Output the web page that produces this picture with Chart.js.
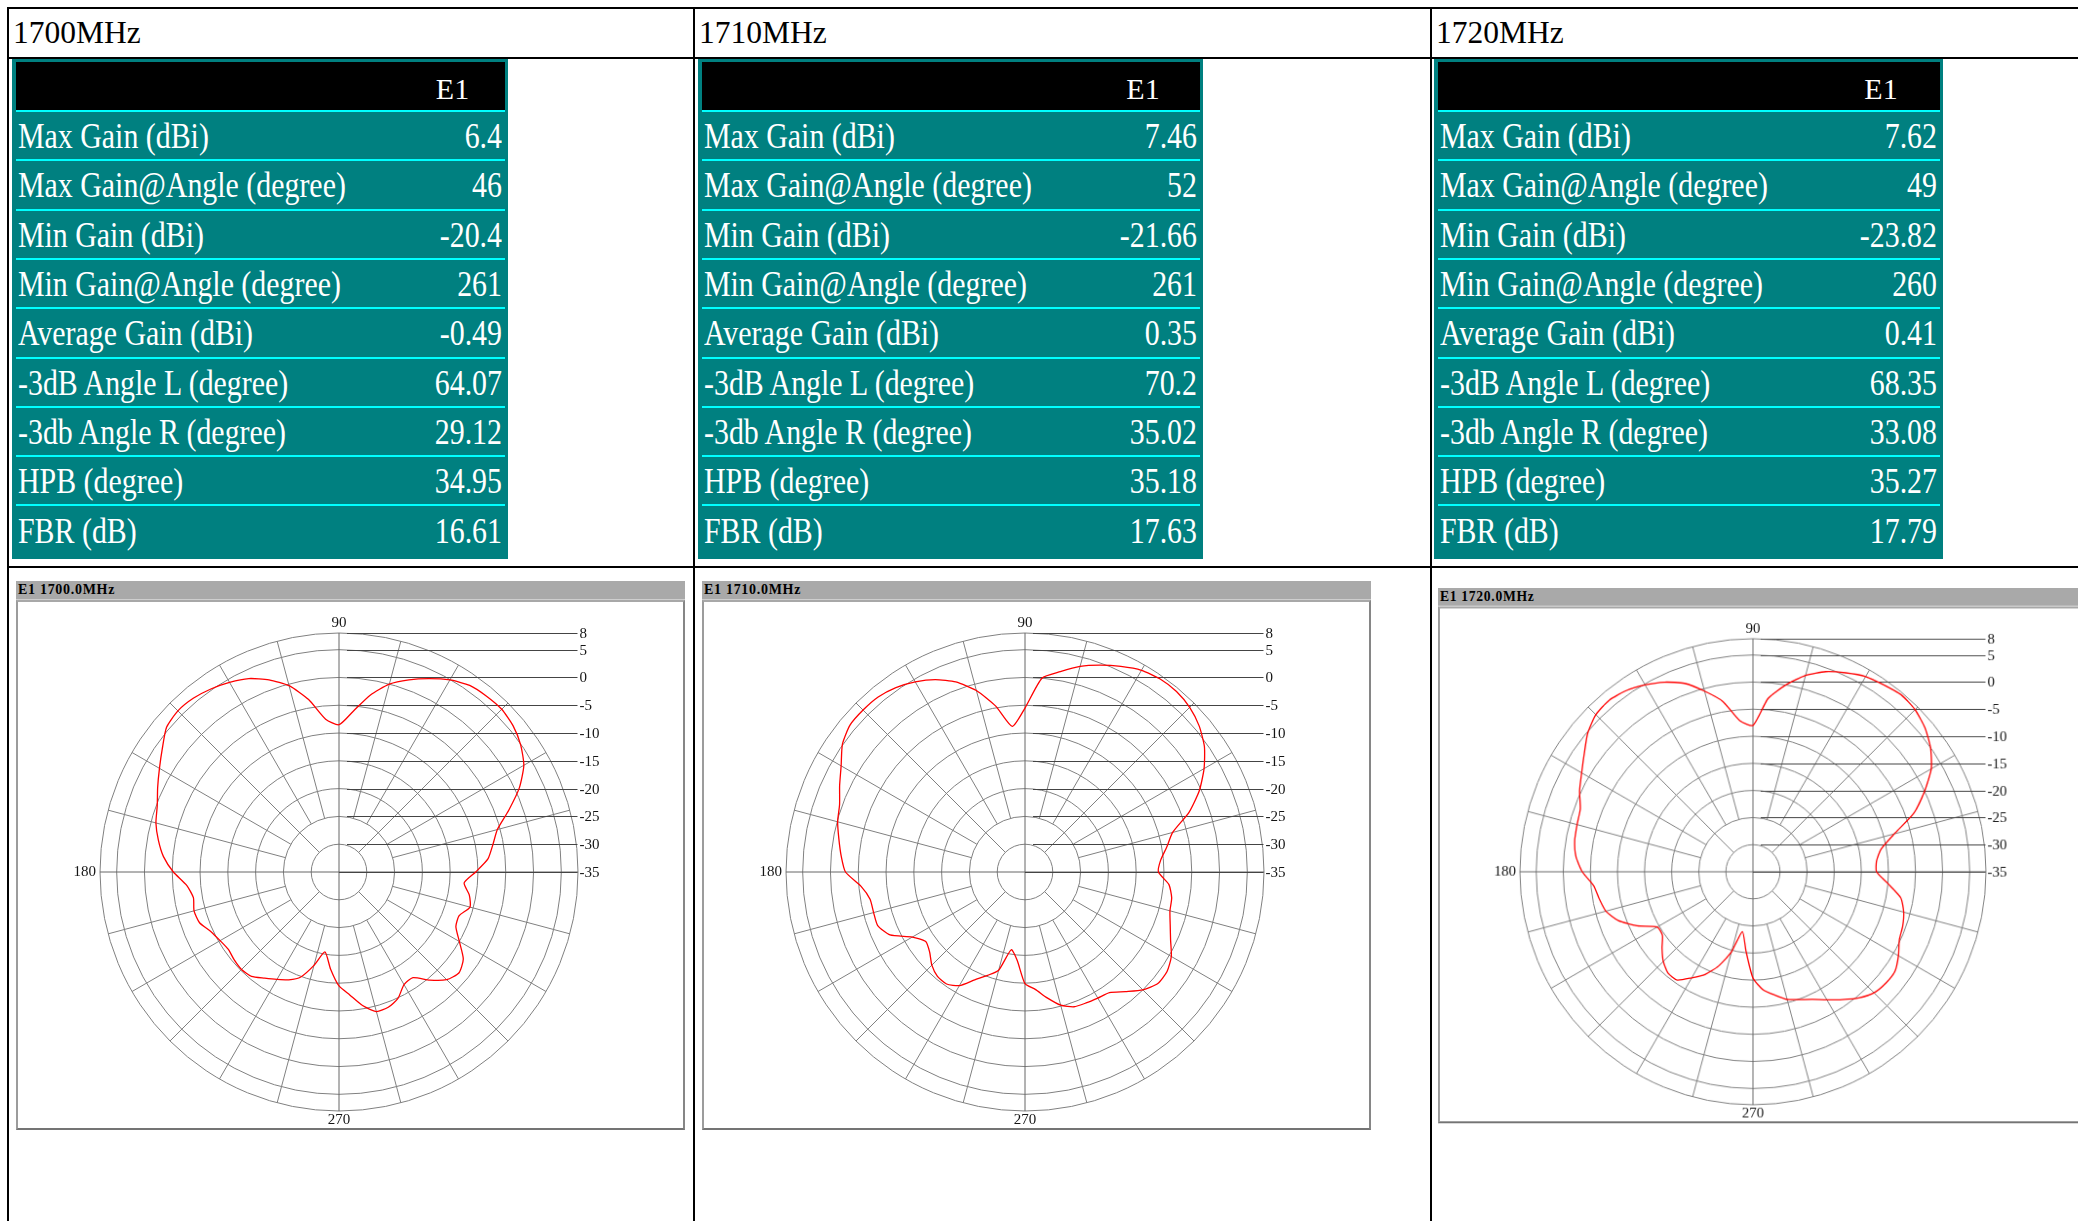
<!DOCTYPE html>
<html>
<head>
<meta charset="utf-8">
<title>E1 radiation patterns, 1700-1720 MHz</title>
<script src="https://cdn.jsdelivr.net/npm/chart.js@4.4.1/dist/chart.umd.min.js"></script>
<style>
  html, body { margin: 0; padding: 0; background: #fff; }
  #page { position: relative; width: 2078px; height: 1221px; overflow: hidden; background: #fff;
          font-family: "Liberation Serif", "Times New Roman", serif; }
  .rule { position: absolute; background: #000; }
  .freq { position: absolute; font-size: 31.5px; line-height: 31.5px; color: #000; white-space: nowrap; }
  .teal { position: absolute; background: #008080; }
  .blk  { position: absolute; background: #000; }
  .cyan { position: absolute; height: 2px; background: #00ffff; }
  .e1   { position: absolute; width: 100px; text-align: center; font-size: 30px; line-height: 30px; color: #fff; }
  .row  { position: absolute; font-size: 36px; line-height: 36px; color: #fff; white-space: nowrap; }
  .row span { display: inline-block; transform: scaleX(0.83); }
  .lab span { transform-origin: left center; }
  .val { text-align: right; }
  .val span { transform-origin: right center; }
  .panel { position: absolute; width: 669px; height: 550px; transform-origin: 0 0; }
  .bar { position: absolute; left: 0; top: 0; width: 669px; height: 18px; background: #a9a9a9;
         border-bottom: 1px solid #cfcfcf; }
  .bar span { position: absolute; left: 2px; top: 1px; font: bold 14px/16px "Liberation Serif", serif;
              letter-spacing: 0.7px; color: #000; white-space: nowrap; }
  .frame { position: absolute; left: 0; top: 19px; width: 665px; height: 526px; background: #fff;
           border: 2px solid; border-color: #a8a8a8 #868686 #747474 #9c9c9c; }
  canvas { position: absolute; }
</style>
</head>
<body>
<div id="page"></div>
<script>
// ---------------- data ----------------
const freqLabels = ["1700MHz", "1710MHz", "1720MHz"];
const plotTitles = ["E1 1700.0MHz", "E1 1710.0MHz", "E1 1720.0MHz"];
const portName = "E1";

const statNames = [
  "Max Gain (dBi)", "Max Gain@Angle (degree)", "Min Gain (dBi)", "Min Gain@Angle (degree)",
  "Average Gain (dBi)", "-3dB Angle L (degree)", "-3db Angle R (degree)", "HPB (degree)", "FBR (dB)"
];
const stats1700 = ["6.4", "46", "-20.4", "261", "-0.49", "64.07", "29.12", "34.95", "16.61"];
const stats1710 = ["7.46", "52", "-21.66", "261", "0.35", "70.2", "35.02", "35.18", "17.63"];
const stats1720 = ["7.62", "49", "-23.82", "260", "0.41", "68.35", "33.08", "35.27", "17.79"];

// pattern angles (degrees, counter-clockwise from 0 at the right)
const angles = [
    0,   5,  10,  15,  20,  25,  30,  35,  40,  45,  50,  55,
   60,  65,  70,  75,  80,  85,  90,  95, 100, 105, 110, 115,
  120, 125, 130, 135, 140, 145, 150, 155, 160, 165, 170, 175,
  180, 185, 190, 195, 200, 205, 210, 215, 220, 225, 230, 235,
  240, 245, 250, 255, 260, 265, 270, 275, 280, 285, 290, 295,
  300, 305, 310, 315, 320, 325, 330, 335, 340, 345, 350, 355
];

// gain in dBi at each angle above
const gain1700 = [
  -10.4,  -8.1,  -6.9,  -5.5,  -2.5,   0.8,   3.4,   4.9,   5.9,   6.4,   6.3,   6.0,
    4.9,   3.4,   1.8,   0.0,  -2.7,  -6.0,  -8.5,  -7.4,  -3.5,  -0.3,   1.8,   3.4,
    4.4,   5.2,   5.8,   6.0,   5.5,   3.8,   2.3,   1.0,  -0.2,  -0.9,  -2.0,  -3.3,
   -5.2,  -7.5,  -8.4,  -8.0,  -8.3,  -9.6, -10.3, -10.7, -10.4, -10.2, -10.5, -11.7,
  -12.7, -13.6, -14.9, -17.6, -20.4, -17.5, -14.5, -12.8, -10.6,  -9.0,  -9.1,  -9.9,
  -11.6, -11.8,  -9.6,  -7.6,  -6.8,  -7.7, -10.0, -11.8, -12.0, -10.6, -11.2, -12.4
];
const gain1710 = [
  -11.0, -10.5,  -9.1,  -7.5,  -3.6,  -0.4,   2.2,   4.4,   5.9,   6.9,   7.4,   7.4,
    6.9,   5.8,   4.6,   3.3,   1.6,   0.0,  -5.5,  -8.7,  -4.7,  -1.2,   1.4,   3.2,
    4.5,   5.5,   6.1,   6.2,   6.1,   5.1,   3.2,   1.8,   0.5,  -0.1,  -1.0,  -1.8,
   -2.7,  -5.4,  -6.7,  -6.8,  -6.8,  -8.2, -11.6, -13.2, -12.6, -11.3, -10.5, -10.4,
  -11.4, -13.6, -15.2, -16.7, -20.8, -19.0, -14.9, -13.8, -12.0, -10.2,  -9.2,  -9.0,
   -8.8,  -8.5,  -6.9,  -5.0,  -3.8,  -3.8,  -4.6,  -6.1,  -7.2,  -8.0,  -8.2,  -9.0
];
const gain1720 = [
  -12.2, -12.1, -11.0,  -8.0,  -3.4,  -0.1,   3.0,   5.0,   6.4,   7.3,   7.6,   7.1,
    6.6,   5.5,   4.3,   2.5,   0.0,  -2.9,  -8.0,  -7.0,  -3.1,  -0.5,   2.0,   3.6,
    4.8,   5.8,   6.3,   6.0,   4.8,   3.0,   1.5,   0.3,  -1.1,  -1.4,  -1.6,  -2.2,
   -3.5,  -5.5,  -6.2,  -6.9,  -8.6, -11.4, -14.6, -14.6, -13.1, -11.6, -10.6, -10.6,
  -12.4, -14.1, -16.5, -19.7, -23.8, -20.3, -15.4, -13.1, -11.9, -10.6,  -9.9,  -9.0,
   -7.7,  -6.2,  -4.6,  -3.4,  -3.0,  -3.0,  -4.0,  -5.2,  -5.6,  -6.2,  -7.3, -10.0
];

// radial grid levels (dB); the first one sits at the centre
const ringLevels = [-35, -30, -25, -20, -15, -10, -5, 0, 5, 8];
// angle marks written around the plot
const angleMarks = [90, 180, 270];

// ---------------- page scaffolding ----------------
const page = document.getElementById('page');
function add(cls, css, text) {
  const d = document.createElement('div');
  d.className = cls;
  Object.assign(d.style, css);
  if (text !== undefined) d.textContent = text;
  page.appendChild(d);
  return d;
}
const px = v => v + 'px';

// outer table rules
add('rule', { left: px(7), top: px(7), width: px(2071), height: px(2) });
add('rule', { left: px(7), top: px(57), width: px(2071), height: px(2) });
add('rule', { left: px(7), top: px(566), width: px(2071), height: px(2) });
[7, 693, 1430].forEach(x => add('rule', { left: px(x), top: px(7), width: px(2), height: px(1214) }));

// statistics blocks
const statSets = [stats1700, stats1710, stats1720];
const blocks = [
  { col: 7,    left: 12,   right: 508,  e1: 452.5 },
  { col: 693,  left: 698,  right: 1203, e1: 1143 },
  { col: 1430, left: 1434, right: 1943, e1: 1881 }
];
const ROW_TOP = 110, ROW_PITCH = 49.3;

blocks.forEach((b, i) => {
  add('freq', { left: px(b.col + 6), top: px(17) }, freqLabels[i]);
  add('teal', { left: px(b.left), top: px(59), width: px(b.right - b.left), height: px(500) });
  add('blk', { left: px(b.left + 4), top: px(62), width: px(b.right - b.left - 7), height: px(48) });
  add('e1', { left: px(b.e1 - 50), top: px(74.2) }, portName);
  statNames.forEach((name, k) => {
    const lineY = ROW_TOP + ROW_PITCH * k;
    add('cyan', { left: px(b.left + 4), top: px(lineY), width: px(b.right - b.left - 7) });
    const top = lineY + 8.15;
    const lab = add('row lab', { left: px(b.left + 5.5), top: px(top) });
    const s1 = document.createElement('span'); s1.textContent = name; lab.appendChild(s1);
    const val = add('row val', { left: px(b.left), width: px(b.right - b.left - 6), top: px(top) });
    const s2 = document.createElement('span'); s2.textContent = statSets[i][k]; val.appendChild(s2);
  });
});

// ---------------- polar pattern charts ----------------
const CX = 323, CY = 271;          // wanted centre inside each canvas
const CANVAS_W = 669, CANVAS_H = 530;

const polarDecor = {
  id: 'polarDecor',
  beforeDatasetsDraw(chart) {
    const s = chart.scales.r;
    const ctx = chart.ctx;
    const n = chart.data.labels.length;
    const idx = deg => ((360 - deg) % 360) * n / 360;
    const dist = v => s.getDistanceFromCenterForValue(v);
    const R = dist(ringLevels[ringLevels.length - 1]);
    const cx = s.xCenter, cy = s.yCenter;
    ctx.save();
    ctx.lineWidth = 1;

    // spokes every 15 degrees
    for (let a = 0; a < 360; a += 15) {
      const inner = a % 90 === 0 ? ringLevels[0] : (a % 45 === 0 ? ringLevels[1] : ringLevels[2]);
      const p0 = s.getPointPosition(idx(a), dist(inner));
      const p1 = s.getPointPosition(idx(a), R);
      ctx.strokeStyle = a % 90 === 0 ? '#666666' : '#808080';
      ctx.beginPath();
      ctx.moveTo(p0.x, p0.y);
      ctx.lineTo(p1.x, p1.y);
      ctx.stroke();
    }

    // level leader lines with their labels on the right
    ctx.font = '15px "Liberation Serif", serif';
    ctx.textBaseline = 'middle';
    ctx.textAlign = 'left';
    ringLevels.forEach(v => {
      const y = Math.round(cy - dist(v)) + 0.5;
      const x0 = v === ringLevels[0] ? cx : cx + 8;
      ctx.strokeStyle = '#444444';
      ctx.beginPath();
      ctx.moveTo(x0, y);
      ctx.lineTo(cx + R - 0.5, y);
      ctx.stroke();
      ctx.fillStyle = '#151515';
      ctx.fillText(String(v), cx + R + 1.5, y + 0.5);
    });

    // angle marks
    angleMarks.forEach(a => {
      const left = Math.cos(a * Math.PI / 180) < -0.5;
      const p = s.getPointPosition(idx(a), R + (left ? 4 : 9.5));
      ctx.textAlign = left ? 'right' : 'center';
      ctx.fillText(String(a), p.x, p.y);
    });
    ctx.restore();
  }
};

function buildPanel(left, top, scale, title, gains) {
  const panel = add('panel', { left: px(left), top: px(top) });
  if (scale !== 1) panel.style.transform = 'scale(' + scale + ')';
  const bar = document.createElement('div'); bar.className = 'bar';
  const t = document.createElement('span'); t.textContent = title; bar.appendChild(t);
  panel.appendChild(bar);
  const frame = document.createElement('div'); frame.className = 'frame';
  panel.appendChild(frame);

  const cv = document.createElement('canvas');
  cv.width = CANVAS_W; cv.height = CANVAS_H;
  cv.style.left = '0px'; cv.style.top = '20px';
  panel.appendChild(cv);

  // counter-clockwise angles: index i holds angle (360 - 5i) mod 360
  const n = angles.length;
  const order = angles.map((_, i) => (n - i) % n);

  const chart = new Chart(cv, {
    type: 'radar',
    data: {
      labels: order.map(j => angles[j]),
      datasets: [{
        data: order.map(j => gains[j]),
        borderColor: '#ff0000',
        borderWidth: 1.3,
        pointRadius: 0,
        pointHoverRadius: 0,
        pointHitRadius: 0,
        fill: false,
        tension: 0.2
      }]
    },
    options: {
      responsive: false,
      animation: false,
      devicePixelRatio: 1,
      events: [],
      layout: { padding: { left: 84, right: CANVAS_W - 84 - 479, top: 32, bottom: CANVAS_H - 32 - 479 } },
      plugins: { legend: { display: false }, tooltip: { enabled: false } },
      scales: {
        r: {
          min: ringLevels[0],
          max: ringLevels[ringLevels.length - 1],
          startAngle: 90,
          afterBuildTicks: sc => { sc.ticks = ringLevels.map(v => ({ value: v })); },
          ticks: { display: false },
          grid: { circular: true, color: '#808080', lineWidth: 1 },
          angleLines: { display: false },
          pointLabels: { display: false }
        }
      }
    },
    plugins: [polarDecor]
  });

  // keep the pattern centre where the frame expects it
  const s = chart.scales.r;
  const dx = Math.round(CX - s.xCenter), dy = Math.round(CY - s.yCenter);
  cv.style.left = px(dx);
  cv.style.top = px(20 + dy);
}

buildPanel(16, 581, 1, plotTitles[0], gain1700);
buildPanel(702, 581, 1, plotTitles[1], gain1710);
buildPanel(1438, 588, 0.975, plotTitles[2], gain1720);
</script>
</body>
</html>
